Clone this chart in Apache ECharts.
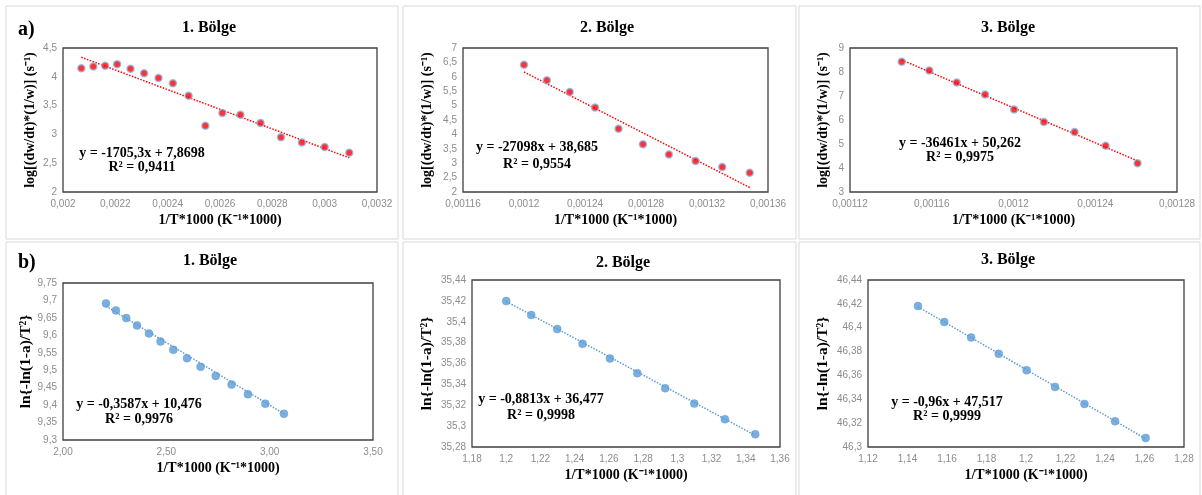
<!DOCTYPE html>
<html>
<head>
<meta charset="utf-8">
<script src="https://cdn.jsdelivr.net/npm/echarts@6/dist/echarts.min.js"></script>
<style>html,body{margin:0;padding:0;background:#fff;}#c{width:1202px;height:495px;}</style>
</head>
<body>
<div id="c"></div>
<script>
// ---- data ----
const panelTitles = ['1. Bölge', '2. Bölge', '3. Bölge', '1. Bölge', '2. Bölge', '3. Bölge'];
const rowLabels = ['a)', 'b)'];
const xName = '1/T*1000 (K⁻¹*1000)';
const yNameA = 'log[(dw/dt)*(1/w)] (s⁻¹)';
const yNameB = 'ln{-ln(1-a)/T²}';

const a1X = [0.00207,0.002116,0.002161,0.002207,0.002258,0.00231,0.002365,0.00242,0.00248,0.002544,0.002609,0.002678,0.002755,0.002833,0.002913,0.003,0.003094];
const a1Y = [4.15,4.18,4.19,4.22,4.14,4.06,3.98,3.89,3.67,3.15,3.37,3.34,3.20,2.95,2.86,2.78,2.68];
const a2X = [0.0012,0.001215,0.00123,0.0012466,0.001262,0.001278,0.001295,0.0013125,0.00133,0.001348];
const a2Y = [6.42,5.88,5.47,4.93,4.20,3.66,3.30,3.08,2.87,2.67];
const a3X = [0.0011453,0.0011588,0.0011722,0.0011861,0.0012003,0.0012149,0.0012299,0.0012451,0.0012607];
const a3Y = [8.43,8.06,7.56,7.06,6.44,5.92,5.50,4.93,4.20];
const b1X = [2.208,2.256,2.306,2.358,2.416,2.472,2.534,2.600,2.666,2.739,2.816,2.895,2.979,3.069];
const b1Y = [9.6916,9.6715,9.6494,9.6283,9.6053,9.5824,9.5584,9.5345,9.5096,9.4837,9.4588,9.4310,9.4042,9.3754];
const b2X = [1.2,1.2146,1.2298,1.2446,1.2606,1.2766,1.2929,1.3099,1.3278,1.3455];
const b2Y = [35.4198,35.4064,35.393,35.3789,35.3648,35.3507,35.3363,35.3216,35.3066,35.2922];
const b3X = [1.1453,1.1586,1.1722,1.1862,1.2003,1.2147,1.2296,1.2451,1.2606];
const b3Y = [46.4182,46.4047,46.3918,46.3781,46.3644,46.3504,46.3361,46.3216,46.3076];

// trendline coefficients printed on the chart
const slopes = [-1705.3, -27098, -36461, -0.3587, -0.8813, -0.96];
const intercepts = [7.8698, 38.685, 50.262, 10.476, 36.477, 47.517];
const eqTexts = ['y = -1705,3x + 7,8698', 'y = -27098x + 38,685', 'y = -36461x + 50,262',
                 'y = -0,3587x + 10,476', 'y = -0,8813x + 36,477', 'y = -0,96x + 47,517'];
const r2Texts = ['R² = 0,9411', 'R² = 0,9554', 'R² = 0,9975', 'R² = 0,9976', 'R² = 0,9998', 'R² = 0,9999'];

// axis ranges (tick labels)
const xMin = [0.002, 0.00116, 0.00112, 2.0, 1.18, 1.12];
const xMax = [0.0032, 0.00136, 0.00128, 3.5, 1.36, 1.28];
const xStep = [0.0002, 0.00004, 0.00004, 0.5, 0.02, 0.02];
const yMin = [2, 2, 3, 9.3, 35.28, 46.3];
const yMax = [4.5, 7, 9, 9.75, 35.44, 46.44];
const yStep = [0.5, 0.5, 1, 0.05, 0.02, 0.02];

// ---- layout ----
const grids = [
  {left: 63, top: 48, width: 314, height: 144},
  {left: 463, top: 48, width: 305, height: 144},
  {left: 850, top: 48, width: 327, height: 144},
  {left: 63, top: 283, width: 310, height: 157},
  {left: 472, top: 280, width: 308, height: 167},
  {left: 868, top: 280, width: 316, height: 167}
];
const yGaps = [26, 29, 20, 29, 37, 37];
const yNameSize = [14, 14, 14, 15.5, 15.5, 15.5];
const titlePos = [[204, 15], [602, 15], [1003, 15], [205, 248], [618, 250], [1003, 247]];
const eqPos = [[142, 153, 167], [537, 147, 164], [960, 143, 157], [139, 404, 419], [541, 399, 415], [947, 402, 416]];
const panelRects = [[6, 6, 392, 233], [403, 6, 393, 233], [799, 6, 401, 233],
                    [6, 242, 392, 260], [403, 242, 393, 260], [799, 242, 401, 260]];

const xs = [a1X, a2X, a3X, b1X, b2X, b3X];
const ys = [a1Y, a2Y, a3Y, b1Y, b2Y, b3Y];

function fmt(v) { return String(+(+v).toPrecision(10)).replace('.', ','); }
function fmt2(v) { return (+v).toFixed(2).replace('.', ','); }

const serif = 'Liberation Serif';
const option = {
  animation: false,
  backgroundColor: '#fff',
  title: [],
  grid: [], xAxis: [], yAxis: [], series: [], graphic: []
};

panelRects.forEach(r => option.graphic.push({
  type: 'rect', shape: {x: r[0], y: r[1], width: r[2], height: r[3]},
  style: {fill: 'none', stroke: '#d9d9d9', lineWidth: 1}, z: -10
}));

for (let i = 0; i < 6; i++) {
  const isA = i < 3;
  option.grid.push(Object.assign({show: true, borderColor: '#3f3f3f', borderWidth: 1.3, backgroundColor: 'transparent'}, grids[i]));
  option.xAxis.push({
    type: 'value', gridIndex: i, min: xMin[i], max: xMax[i], interval: xStep[i],
    name: xName, nameLocation: 'middle', nameGap: 21,
    nameTextStyle: {fontFamily: serif, fontWeight: 'bold', fontSize: 14, color: '#000'},
    axisLine: {show: false}, axisTick: {show: false}, splitLine: {show: false},
    axisLabel: {formatter: i === 3 ? fmt2 : fmt, color: '#8c8c8c', fontSize: 10, fontFamily: 'Liberation Sans', margin: 7,
                showMinLabel: true, showMaxLabel: true}
  });
  option.yAxis.push({
    type: 'value', gridIndex: i, min: yMin[i], max: yMax[i], interval: yStep[i],
    name: isA ? yNameA : yNameB, nameLocation: 'middle', nameGap: yGaps[i],
    nameTextStyle: {fontFamily: serif, fontWeight: 'bold', fontSize: yNameSize[i], color: '#000'},
    axisLine: {show: false}, axisTick: {show: false}, splitLine: {show: false},
    axisLabel: {formatter: fmt, color: '#8c8c8c', fontSize: 10, fontFamily: 'Liberation Sans', margin: 6}
  });
  const x0 = Math.min(...xs[i]), x1 = Math.max(...xs[i]);
  option.series.push({
    type: 'line', xAxisIndex: i, yAxisIndex: i, symbol: 'none', silent: true,
    data: [[x0, slopes[i] * x0 + intercepts[i]], [x1, slopes[i] * x1 + intercepts[i]]],
    lineStyle: {color: isA ? '#ff0000' : '#5b9bd5', width: 1.5, type: [1.5, 1.5]}, z: 2
  });
  option.series.push({
    type: 'scatter', xAxisIndex: i, yAxisIndex: i,
    data: xs[i].map((x, k) => [x, ys[i][k]]),
    symbolSize: isA ? 7 : 8,
    itemStyle: isA ? {color: '#ff0000', borderColor: '#8fb4e3', borderWidth: 1.5}
                   : {color: '#5b9bd5', borderColor: '#5b9bd5', borderWidth: 0.5},
    z: 3
  });
  option.title.push({
    text: panelTitles[i], left: titlePos[i][0], top: titlePos[i][1], textAlign: 'center',
    textStyle: {fontFamily: serif, fontWeight: 'bold', fontSize: 16, color: '#000'}
  });
  option.graphic.push({
    type: 'text', x: eqPos[i][0], y: eqPos[i][1],
    style: {text: eqTexts[i], fontFamily: serif, fontWeight: 'bold', fontSize: 14, fill: '#000', align: 'center', verticalAlign: 'middle'}
  });
  option.graphic.push({
    type: 'text', x: eqPos[i][0], y: eqPos[i][2],
    style: {text: r2Texts[i], fontFamily: serif, fontWeight: 'bold', fontSize: 14, fill: '#000', align: 'center', verticalAlign: 'middle'}
  });
}
option.graphic.push({type: 'text', x: 18, y: 30, style: {text: rowLabels[0], fontFamily: serif, fontWeight: 'bold', fontSize: 20, fill: '#000', verticalAlign: 'middle'}});
option.graphic.push({type: 'text', x: 18, y: 263, style: {text: rowLabels[1], fontFamily: serif, fontWeight: 'bold', fontSize: 20, fill: '#000', verticalAlign: 'middle'}});

const chart = echarts.init(document.getElementById('c'), null, {renderer: 'canvas'});
chart.setOption(option);
</script>
</body>
</html>
